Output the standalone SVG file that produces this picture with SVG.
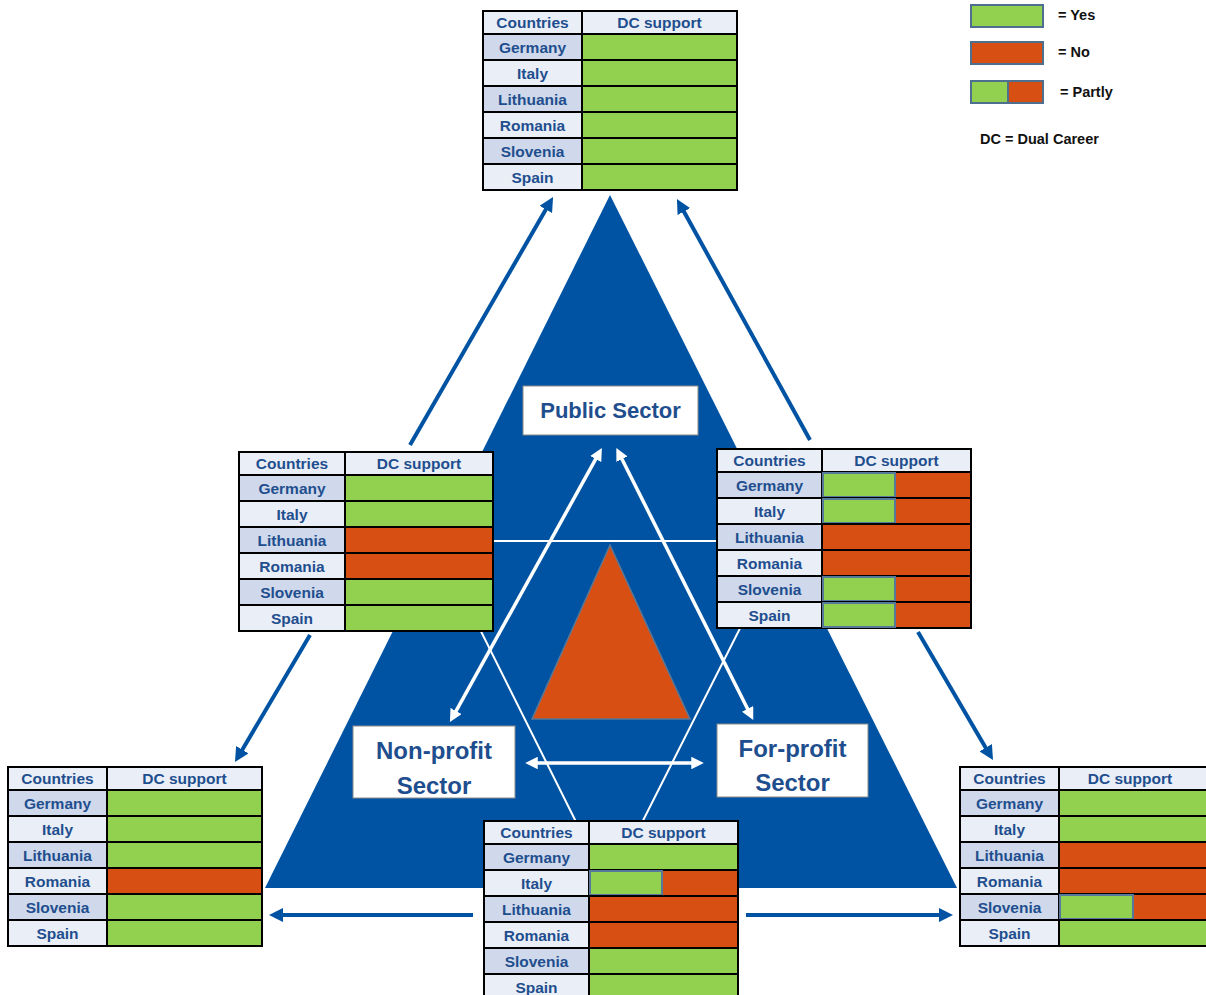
<svg xmlns="http://www.w3.org/2000/svg" width="1206" height="995" viewBox="0 0 1206 995">
<style>
.b{stroke:#000;stroke-width:2}
.hd{fill:#eaeef7}
.d{fill:#cfd9eb}
.l{fill:#eaeef7}
.g{fill:#92d050}
.o{fill:#d84f14}
.pg{fill:#92d050;stroke:#56789a;stroke-width:2}
.t{font-family:"Liberation Sans",Arial,sans-serif;font-weight:bold;font-size:15.5px;fill:#1f4e8e;text-anchor:middle}
.st{font-family:"Liberation Sans",Arial,sans-serif;font-weight:bold;font-size:22px;fill:#1f4e8e;text-anchor:middle}
.lg{font-family:"Liberation Sans",Arial,sans-serif;font-weight:bold;font-size:14.5px;fill:#111}
.box{fill:#fff;stroke:#8a8a8a;stroke-width:1}
.ba{stroke:#0053a2;stroke-width:4;fill:none}
.wa{stroke:#fff;stroke-width:3.5;fill:none}
.wl{stroke:#fff;stroke-width:2;fill:none}
.lgr{stroke:#4f6f8f;stroke-width:2}
</style>
<defs>
<marker id="bh" viewBox="0 0 10 10" refX="3" refY="5" markerWidth="3.6" markerHeight="3.6" markerUnits="strokeWidth" orient="auto-start-reverse">
<path d="M0,0 L10,5 L0,10 z" fill="#0053a2"/>
</marker>
<marker id="wh" viewBox="0 0 10 10" refX="3" refY="5" markerWidth="3.6" markerHeight="3.6" markerUnits="strokeWidth" orient="auto-start-reverse">
<path d="M0,0 L10,5 L0,10 z" fill="#fff"/>
</marker>
</defs>
<rect width="1206" height="995" fill="#fff"/>

<g id="background">
<polygon points="610,195 265,888 957,888" fill="#0053a2"/>
<polyline class="wl" points="436,541 784,541 609,888 436,541"/>
<polygon points="610,545 532,719 690,719" fill="#d84f14" stroke="#5a7896" stroke-width="1.5"/>
</g>

<g id="connectors">
<line class="wa" x1="597.6" y1="455.7" x2="454.2" y2="714.3" marker-start="url(#wh)" marker-end="url(#wh)"/>
<line class="wa" x1="620.3" y1="455.8" x2="749.3" y2="712.2" marker-start="url(#wh)" marker-end="url(#wh)"/>
<line class="wa" x1="534" y1="763" x2="695" y2="763" marker-start="url(#wh)" marker-end="url(#wh)"/>
<line class="ba" x1="410" y1="445" x2="548" y2="205.7" marker-end="url(#bh)"/>
<line class="ba" x1="810" y1="440" x2="681.8" y2="207.8" marker-end="url(#bh)"/>
<line class="ba" x1="310" y1="635" x2="240.1" y2="753.4" marker-end="url(#bh)"/>
<line class="ba" x1="918" y1="632" x2="987.9" y2="751.4" marker-end="url(#bh)"/>
<line class="ba" x1="473" y1="915" x2="279" y2="915" marker-end="url(#bh)"/>
<line class="ba" x1="746" y1="915" x2="943" y2="915" marker-end="url(#bh)"/>
</g>

<g id="public-sector">
<rect class="box" x="523" y="386" width="175" height="49"/>
<text class="st" x="610.5" y="418">Public Sector</text>
</g>
<g id="nonprofit-sector">
<rect class="box" x="353" y="726" width="162" height="72"/>
<text class="st" x="434" y="759" style="font-size:24px">Non-profit</text>
<text class="st" x="434" y="794" style="font-size:24px">Sector</text>
</g>
<g id="forprofit-sector">
<rect class="box" x="717" y="724" width="151" height="73"/>
<text class="st" x="792.5" y="757" style="font-size:24px">For-profit</text>
<text class="st" x="792.5" y="791" style="font-size:24px">Sector</text>
</g>

<g id="table-top" transform="translate(483,11)">
<rect class="b hd" x="0" y="0" width="99" height="23"/><rect class="b hd" x="99" y="0" width="155" height="23"/>
<rect class="b d" x="0" y="23" width="99" height="26"/><rect class="b g" x="99" y="23" width="155" height="26"/>
<rect class="b l" x="0" y="49" width="99" height="26"/><rect class="b g" x="99" y="49" width="155" height="26"/>
<rect class="b d" x="0" y="75" width="99" height="26"/><rect class="b g" x="99" y="75" width="155" height="26"/>
<rect class="b l" x="0" y="101" width="99" height="26"/><rect class="b g" x="99" y="101" width="155" height="26"/>
<rect class="b d" x="0" y="127" width="99" height="26"/><rect class="b g" x="99" y="127" width="155" height="26"/>
<rect class="b l" x="0" y="153" width="99" height="26"/><rect class="b g" x="99" y="153" width="155" height="26"/>
<text class="t" x="49.5" y="17">Countries</text><text class="t" x="176.5" y="17">DC support</text>
<text class="t" x="49.5" y="42">Germany</text>
<text class="t" x="49.5" y="68">Italy</text>
<text class="t" x="49.5" y="94">Lithuania</text>
<text class="t" x="49.5" y="120">Romania</text>
<text class="t" x="49.5" y="146">Slovenia</text>
<text class="t" x="49.5" y="172">Spain</text>
</g>

<g id="table-left" transform="translate(239,452)">
<rect class="b hd" x="0" y="0" width="106" height="23"/><rect class="b hd" x="106" y="0" width="148" height="23"/>
<rect class="b d" x="0" y="23" width="106" height="26"/><rect class="b g" x="106" y="23" width="148" height="26"/>
<rect class="b l" x="0" y="49" width="106" height="26"/><rect class="b g" x="106" y="49" width="148" height="26"/>
<rect class="b d" x="0" y="75" width="106" height="26"/><rect class="b o" x="106" y="75" width="148" height="26"/>
<rect class="b l" x="0" y="101" width="106" height="26"/><rect class="b o" x="106" y="101" width="148" height="26"/>
<rect class="b d" x="0" y="127" width="106" height="26"/><rect class="b g" x="106" y="127" width="148" height="26"/>
<rect class="b l" x="0" y="153" width="106" height="26"/><rect class="b g" x="106" y="153" width="148" height="26"/>
<text class="t" x="53" y="17">Countries</text><text class="t" x="180" y="17">DC support</text>
<text class="t" x="53" y="42">Germany</text>
<text class="t" x="53" y="68">Italy</text>
<text class="t" x="53" y="94">Lithuania</text>
<text class="t" x="53" y="120">Romania</text>
<text class="t" x="53" y="146">Slovenia</text>
<text class="t" x="53" y="172">Spain</text>
</g>

<g id="table-right" transform="translate(717,449)">
<rect class="b hd" x="0" y="0" width="105" height="23"/><rect class="b hd" x="105" y="0" width="149" height="23"/>
<rect class="b d" x="0" y="23" width="105" height="26"/><rect class="b o" x="105" y="23" width="149" height="26"/><rect class="pg" x="106" y="24" width="72" height="24"/>
<rect class="b l" x="0" y="49" width="105" height="26"/><rect class="b o" x="105" y="49" width="149" height="26"/><rect class="pg" x="106" y="50" width="72" height="24"/>
<rect class="b d" x="0" y="75" width="105" height="26"/><rect class="b o" x="105" y="75" width="149" height="26"/>
<rect class="b l" x="0" y="101" width="105" height="26"/><rect class="b o" x="105" y="101" width="149" height="26"/>
<rect class="b d" x="0" y="127" width="105" height="26"/><rect class="b o" x="105" y="127" width="149" height="26"/><rect class="pg" x="106" y="128" width="72" height="24"/>
<rect class="b l" x="0" y="153" width="105" height="26"/><rect class="b o" x="105" y="153" width="149" height="26"/><rect class="pg" x="106" y="154" width="72" height="24"/>
<text class="t" x="52.5" y="17">Countries</text><text class="t" x="179.5" y="17">DC support</text>
<text class="t" x="52.5" y="42">Germany</text>
<text class="t" x="52.5" y="68">Italy</text>
<text class="t" x="52.5" y="94">Lithuania</text>
<text class="t" x="52.5" y="120">Romania</text>
<text class="t" x="52.5" y="146">Slovenia</text>
<text class="t" x="52.5" y="172">Spain</text>
</g>

<g id="table-bottom-left" transform="translate(8,767)">
<rect class="b hd" x="0" y="0" width="99" height="23"/><rect class="b hd" x="99" y="0" width="155" height="23"/>
<rect class="b d" x="0" y="23" width="99" height="26"/><rect class="b g" x="99" y="23" width="155" height="26"/>
<rect class="b l" x="0" y="49" width="99" height="26"/><rect class="b g" x="99" y="49" width="155" height="26"/>
<rect class="b d" x="0" y="75" width="99" height="26"/><rect class="b g" x="99" y="75" width="155" height="26"/>
<rect class="b l" x="0" y="101" width="99" height="26"/><rect class="b o" x="99" y="101" width="155" height="26"/>
<rect class="b d" x="0" y="127" width="99" height="26"/><rect class="b g" x="99" y="127" width="155" height="26"/>
<rect class="b l" x="0" y="153" width="99" height="26"/><rect class="b g" x="99" y="153" width="155" height="26"/>
<text class="t" x="49.5" y="17">Countries</text><text class="t" x="176.5" y="17">DC support</text>
<text class="t" x="49.5" y="42">Germany</text>
<text class="t" x="49.5" y="68">Italy</text>
<text class="t" x="49.5" y="94">Lithuania</text>
<text class="t" x="49.5" y="120">Romania</text>
<text class="t" x="49.5" y="146">Slovenia</text>
<text class="t" x="49.5" y="172">Spain</text>
</g>

<g id="table-bottom-center" transform="translate(484,821)">
<rect class="b hd" x="0" y="0" width="105" height="23"/><rect class="b hd" x="105" y="0" width="149" height="23"/>
<rect class="b d" x="0" y="23" width="105" height="26"/><rect class="b g" x="105" y="23" width="149" height="26"/>
<rect class="b l" x="0" y="49" width="105" height="26"/><rect class="b o" x="105" y="49" width="149" height="26"/><rect class="pg" x="106" y="50" width="72" height="24"/>
<rect class="b d" x="0" y="75" width="105" height="26"/><rect class="b o" x="105" y="75" width="149" height="26"/>
<rect class="b l" x="0" y="101" width="105" height="26"/><rect class="b o" x="105" y="101" width="149" height="26"/>
<rect class="b d" x="0" y="127" width="105" height="26"/><rect class="b g" x="105" y="127" width="149" height="26"/>
<rect class="b l" x="0" y="153" width="105" height="26"/><rect class="b g" x="105" y="153" width="149" height="26"/>
<text class="t" x="52.5" y="17">Countries</text><text class="t" x="179.5" y="17">DC support</text>
<text class="t" x="52.5" y="42">Germany</text>
<text class="t" x="52.5" y="68">Italy</text>
<text class="t" x="52.5" y="94">Lithuania</text>
<text class="t" x="52.5" y="120">Romania</text>
<text class="t" x="52.5" y="146">Slovenia</text>
<text class="t" x="52.5" y="172">Spain</text>
</g>

<g id="table-bottom-right" transform="translate(960,767)">
<rect class="b hd" x="0" y="0" width="99" height="23"/><rect class="b hd" x="99" y="0" width="155" height="23"/>
<rect class="b d" x="0" y="23" width="99" height="26"/><rect class="b g" x="99" y="23" width="155" height="26"/>
<rect class="b l" x="0" y="49" width="99" height="26"/><rect class="b g" x="99" y="49" width="155" height="26"/>
<rect class="b d" x="0" y="75" width="99" height="26"/><rect class="b o" x="99" y="75" width="155" height="26"/>
<rect class="b l" x="0" y="101" width="99" height="26"/><rect class="b o" x="99" y="101" width="155" height="26"/>
<rect class="b d" x="0" y="127" width="99" height="26"/><rect class="b o" x="99" y="127" width="155" height="26"/><rect class="pg" x="100" y="128" width="73" height="24"/>
<rect class="b l" x="0" y="153" width="99" height="26"/><rect class="b g" x="99" y="153" width="155" height="26"/>
<text class="t" x="49.5" y="17">Countries</text><text class="t" x="170" y="17">DC support</text>
<text class="t" x="49.5" y="42">Germany</text>
<text class="t" x="49.5" y="68">Italy</text>
<text class="t" x="49.5" y="94">Lithuania</text>
<text class="t" x="49.5" y="120">Romania</text>
<text class="t" x="49.5" y="146">Slovenia</text>
<text class="t" x="49.5" y="172">Spain</text>
</g>

<g id="legend">
<rect class="lgr" x="971" y="5" width="72" height="22" fill="#92d050"/>
<rect class="lgr" x="971" y="42" width="72" height="22" fill="#d84f14"/>
<rect class="lgr" x="971" y="81" width="72" height="22" fill="#d84f14"/>
<rect class="lgr" x="971" y="81" width="37" height="22" fill="#92d050"/>
<text class="lg" x="1058" y="20">= Yes</text>
<text class="lg" x="1058" y="57">= No</text>
<text class="lg" x="1060" y="97">= Partly</text>
<text class="lg" x="980" y="144">DC = Dual Career</text>
</g>
</svg>
